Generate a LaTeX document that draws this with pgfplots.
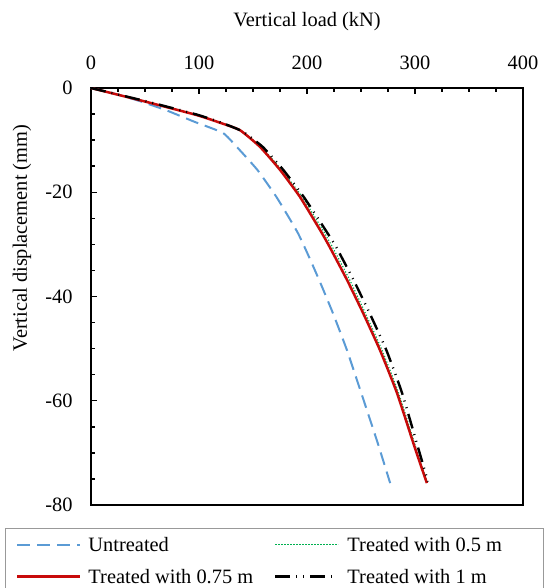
\documentclass[border=0pt]{standalone}
\usepackage{fontspec}
\setmainfont{Liberation Serif}
\usepackage{pgfplots}
\pgfplotsset{compat=1.18}
\definecolor{cblue}{RGB}{91,155,213}
\definecolor{cred}{RGB}{200,10,10}
\definecolor{cgreen}{RGB}{0,176,80}
\begin{document}
\fontsize{10.2}{12}\selectfont
\begin{tikzpicture}
\begin{axis}[
  name=ax,
  at={(0,0)}, anchor=south west,
  scale only axis, width=216pt, height=208.5pt,
  xmin=0, xmax=400, ymin=-80, ymax=0,
  xtick={0,100,...,400}, ytick={0,-20,...,-80},
  minor x tick num=3, minor y tick num=3,
  xtick pos=right, xticklabel pos=right, ytick pos=left,
  tick align=inside,
  major tick length=3pt, minor tick length=2.2pt,
  every tick/.style={black, line width=0.7pt},
  axis line style={line width=0.9pt},
  /pgf/number format/assume math mode=true,
  xticklabel style={anchor=center, inner sep=0pt, yshift=12.5pt},
  yticklabel style={anchor=east, inner sep=0pt, xshift=-9pt},
  xlabel={Vertical load (kN)},
  ylabel={Vertical displacement (mm)},
  every axis x label/.style={at={(axis description cs:0.5,1)}, anchor=center, yshift=33pt},
  every axis y label/.style={at={(axis description cs:-0.1597,0.640)}, rotate=90, anchor=center},
  legend columns=2,
  legend cell align=left,
  legend style={at={(0,0)}, anchor=north west, xshift=-43pt, yshift=-11.5pt,
    draw=gray!80, line width=0.5pt, fill=white, inner sep=0pt,
    nodes={inner sep=0pt, text depth=0pt}, column sep=0pt, row sep=0pt},
  legend image code/.code={\path[draw=none,fill=none] (0pt,-8pt) rectangle (41.5pt,8pt);
    \draw[#1] (6pt,0pt) -- (37.5pt,0pt);},
  col2/.style={legend image code/.code={\path[draw=none,fill=none] (0pt,-8pt) rectangle (39pt,8pt);
    \draw[##1] (3pt,0pt) -- (34.5pt,0pt);}},
]
\addplot[cblue, line width=1pt, dash pattern=on 6.5pt off 3.5pt, smooth, tension=0.3] coordinates {
(0,0) (20,-1.0) (45,-2.5) (70,-4.3) (96,-6.5) (122,-8.6) (135,-11.3) (154,-15.7)
(172,-21.0) (191,-27.6) (201,-32.0) (212,-37.2) (224,-43.2) (237,-50.3) (251,-59.0)
(265,-67.8) (277,-75.8)};
\addlegendentry{\makebox[90.5pt][l]{Untreated}}
\addplot[col2, cgreen, line width=0.6pt, dash pattern=on 0.6pt off 0.9pt, smooth, tension=0.3] coordinates {
(0,0) (52,-2.65) (98,-5.15) (120,-6.65) (138.5,-8.1) (157.5,-11.3) (176.5,-15.7)
(195.5,-20.9) (214.5,-27.2) (223.5,-30.5) (239.5,-36.8) (254,-43.2) (269.5,-50.3)
(284.8,-58.5) (301,-69.1) (311.5,-75.8)};
\addlegendentry{\makebox[98pt][l]{Treated with 0.5 m}}
\addplot[cred, line width=1.25pt, smooth, tension=0.3] coordinates {
(0,0) (52,-2.7) (98,-5.2) (120,-6.7) (138,-8.1) (156.5,-11.3) (175,-15.7)
(193.5,-20.9) (212,-27.2) (221,-30.5) (237,-36.8) (252,-43.2) (267.6,-50.3)
(283.3,-58.5) (300,-69.1) (311,-75.8)};
\addlegendentry{\makebox[90.5pt][l]{Treated with 0.75 m}}
\addplot[col2, black, line width=1.2pt, dash pattern=on 7.5pt off 3pt on 0.5pt off 3pt on 0.5pt off 3pt, smooth, tension=0.3] coordinates {
(0,0) (52,-2.6) (98,-5.1) (120,-6.6) (140,-8.3) (159,-11.3) (178,-15.7)
(197,-20.9) (217,-27.2) (227,-30.5) (243,-36.8) (258,-43.2) (273.5,-50.3)
(288,-58.5) (303,-69.1) (312,-75.5)};
\addlegendentry{\makebox[98pt][l]{Treated with 1 m}}
\end{axis}
\pgfresetboundingbox
\path[use as bounding box] (-45.5pt,-41.5pt) rectangle (231pt,252.5pt);
\end{tikzpicture}
\end{document}
